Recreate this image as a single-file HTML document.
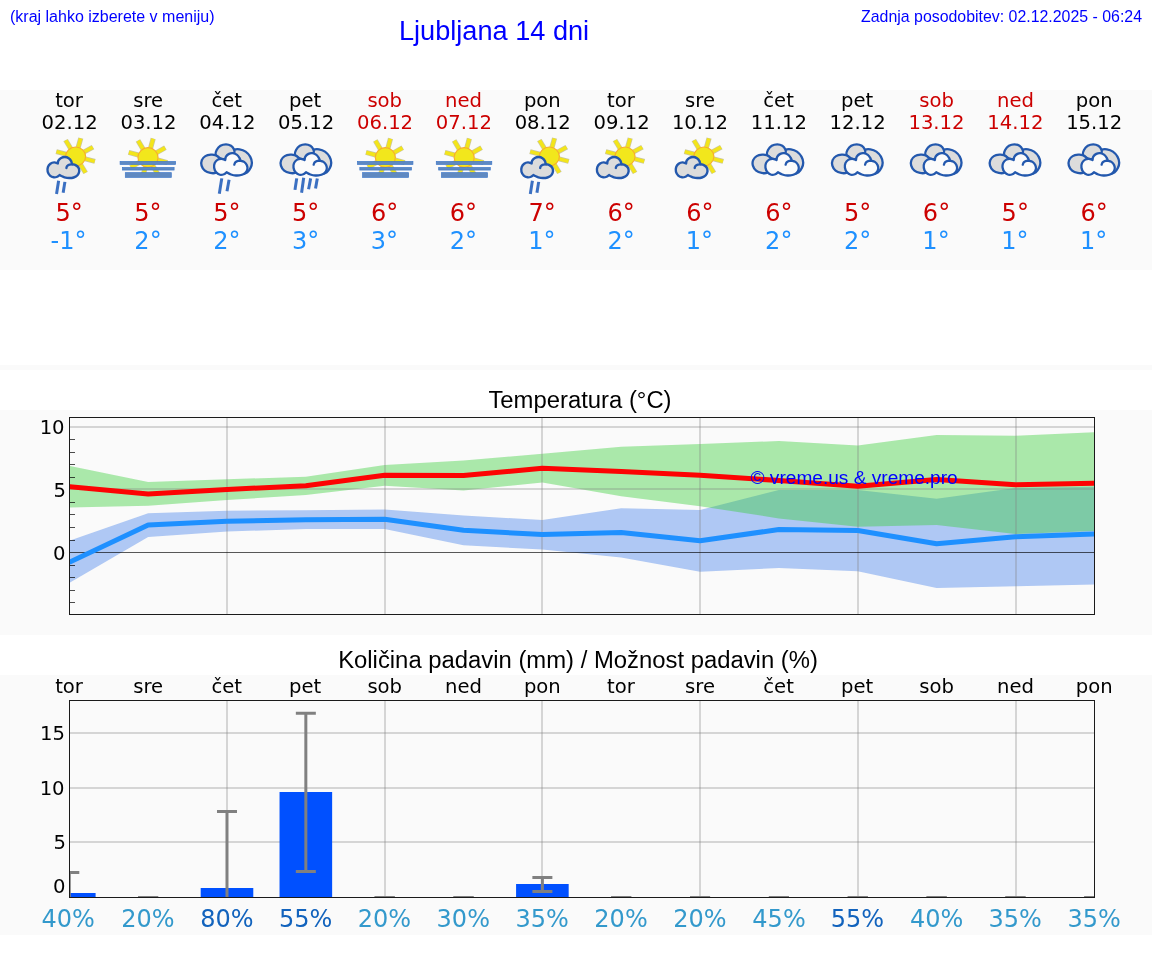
<!DOCTYPE html>
<html lang="sl">
<head>
<meta charset="utf-8">
<title>Ljubljana 14 dni</title>
<style>
html,body{margin:0;padding:0;background:#fff;}
body{width:1152px;height:975px;overflow:hidden;position:relative;}
svg{position:absolute;left:0;top:0;display:block;}
.a{font-family:"Liberation Sans",Arial,sans-serif;}
.d{font-family:"DejaVu Sans","Liberation Sans",sans-serif;}
.m{text-anchor:middle;}
.e{text-anchor:end;}
.hd{fill:#0000ff;}
.we{fill:#cc0000;}
.hi{fill:#cc0000;}
.lo{fill:#1e90ff;}
.p1{fill:#3399cc;}
.p2{fill:#1263bd;}
</style>
</head>
<body>
<svg width="1152" height="975" viewBox="0 0 1152 975">
<defs>
<!-- icon parts; local origin = column centre, y absolute -->
<g id="ray"><line x1="9.5" y1="0" x2="19.1" y2="0" stroke="#9a9440" stroke-opacity="0.5" stroke-width="4.9"/><line x1="9.5" y1="0" x2="18.8" y2="0" stroke="#f3e51a" stroke-width="3.5"/></g>
<g id="sun">
 <use href="#ray" transform="rotate(15)"/>
 <use href="#ray" transform="rotate(60)"/>
 <use href="#ray" transform="rotate(105)"/>
 <use href="#ray" transform="rotate(150)"/>
 <use href="#ray" transform="rotate(195)"/>
 <use href="#ray" transform="rotate(240)"/>
 <use href="#ray" transform="rotate(285)"/>
 <use href="#ray" transform="rotate(330)"/>
 <circle cx="0" cy="0" r="9.55" fill="#f2e71c" stroke="#f6ae2c" stroke-width="1.1"/>
</g>

<g id="scl">
<path d="M-12.07 175.02C-12.49 175.3 -13.57 176.35 -14.55 176.74C-15.54 177.12 -16.78 177.5 -17.99 177.31C-19.2 177.12 -20.79 176.51 -21.81 175.59C-22.83 174.67 -23.75 173.17 -24.1 171.77C-24.45 170.37 -24.36 168.52 -23.91 167.19C-23.47 165.85 -22.48 164.55 -21.43 163.75C-20.38 162.95 -18.85 162.46 -17.61 162.41C-16.37 162.36 -14.59 163.27 -13.98 163.44C-13.89 162.99 -13.95 161.6 -13.41 160.69C-12.87 159.79 -11.82 158.63 -10.73 158.02C-9.65 157.42 -8.19 157.03 -6.92 157.07C-5.64 157.1 -4.15 157.54 -3.1 158.21C-2.05 158.88 -1.15 160.09 -0.61 161.08C-0.07 162.06 0.02 163.62 0.15 164.13C0.76 164.29 2.7 164.51 3.78 165.09C4.86 165.66 6.04 166.52 6.64 167.57C7.25 168.62 7.57 170.12 7.41 171.39C7.25 172.66 6.61 174.19 5.69 175.21C4.77 176.23 3.27 177.02 1.87 177.5C0.47 177.98 -1.19 178.1 -2.71 178.07C-4.24 178.04 -6.02 177.66 -7.3 177.31C-8.57 176.96 -9.56 176.35 -10.35 175.97C-11.15 175.59 -11.79 175.18 -12.07 175.02Z" fill="#dcdcdc" stroke="#2358ad" stroke-width="2.4" stroke-linejoin="round"/>
<path d="M-5.39 167.95C-5.26 167.63 -5.13 166.58 -4.62 166.04C-4.11 165.5 -3.16 164.99 -2.33 164.7C-1.5 164.42 -0.1 164.39 0.34 164.32" fill="none" stroke="#2358ad" stroke-width="2.4" stroke-linecap="round"/>
</g>
<g id="bcl">
<path d="M7.3 149.82C8.48 149.19 10.7 149.02 12.59 149.31C14.48 149.61 16.87 150.36 18.63 151.58C20.39 152.8 22.11 154.77 23.16 156.61C24.21 158.46 24.88 160.73 24.92 162.66C24.97 164.59 24.17 166.6 23.41 168.19C22.66 169.79 22.03 171.22 20.39 172.22C18.76 173.23 15.99 174.57 13.6 174.24C11.2 173.9 7.72 172.56 6.04 170.21C4.36 167.86 3.61 162.99 3.53 160.14C3.44 157.29 4.91 154.81 5.54 153.09C6.17 151.37 6.13 150.45 7.3 149.82Z" fill="#dcdcdc" stroke="#2358ad" stroke-width="2.3" stroke-linejoin="round"/>
<path d="M-11.33 154.7C-11.54 153.53 -11.12 151.55 -10.32 150.07C-9.52 148.58 -8.1 146.75 -6.54 145.79C-4.99 144.82 -2.77 144.28 -1.01 144.28C0.76 144.28 2.69 144.91 4.03 145.79C5.37 146.67 6.5 148.35 7.05 149.57C7.6 150.78 7.89 151.75 7.3 153.09C6.71 154.43 5.41 156.61 3.53 157.62C1.64 158.63 -1.93 159.22 -4.03 159.13C-6.12 159.05 -7.84 157.86 -9.06 157.12C-10.28 156.38 -11.12 155.88 -11.33 154.7Z" fill="#dcdcdc" stroke="#2358ad" stroke-width="2.3" stroke-linejoin="round"/>
<path d="M-11.07 172.73C-12.5 173.36 -14.77 173.31 -16.61 172.98C-18.46 172.64 -20.68 171.93 -22.15 170.71C-23.62 169.5 -24.92 167.44 -25.42 165.68C-25.93 163.91 -25.8 161.73 -25.17 160.14C-24.54 158.54 -23.16 157.03 -21.65 156.11C-20.14 155.19 -17.79 154.77 -16.11 154.6C-14.43 154.43 -12.92 154.6 -11.58 155.1C-10.24 155.61 -8.89 156.36 -8.05 157.62C-7.22 158.88 -6.54 160.73 -6.54 162.66C-6.54 164.59 -7.3 167.52 -8.05 169.2C-8.81 170.88 -9.65 172.1 -11.07 172.73Z" fill="#dcdcdc" stroke="#2358ad" stroke-width="2.3" stroke-linejoin="round"/>
<path d="M-0.25 172.22C-0.71 172.56 -1.89 173.82 -3.02 174.24C-4.15 174.66 -5.75 175.08 -7.05 174.74C-8.35 174.4 -9.86 173.4 -10.82 172.22C-11.79 171.05 -12.59 169.2 -12.84 167.69C-13.09 166.18 -12.88 164.46 -12.33 163.16C-11.79 161.86 -10.7 160.6 -9.56 159.89C-8.43 159.17 -6.84 158.86 -5.54 158.88C-4.24 158.91 -2.39 159.85 -1.76 160.04C-1.63 159.47 -1.63 157.65 -1.01 156.61C-0.38 155.58 0.84 154.42 2.02 153.85C3.19 153.27 4.7 153.02 6.04 153.19C7.39 153.36 8.98 154.03 10.07 154.85C11.16 155.67 12.04 157.16 12.59 158.12C13.13 159.09 13.22 160.22 13.34 160.64C13.97 160.85 16.03 161.15 17.12 161.9C18.21 162.66 19.34 163.96 19.89 165.17C20.43 166.39 20.69 167.9 20.39 169.2C20.1 170.5 19.18 172.01 18.13 172.98C17.08 173.94 15.61 174.57 14.1 174.99C12.59 175.41 10.74 175.58 9.06 175.49C7.39 175.41 5.58 175.03 4.03 174.49C2.48 173.94 0.46 172.6 -0.25 172.22Z" fill="#fbfbfb" stroke="#2358ad" stroke-width="2.3" stroke-linejoin="round"/>
<path d="M7.3 164.67C7.47 164.29 7.68 163.03 8.31 162.4C8.94 161.78 10.2 161.17 11.08 160.89C11.96 160.62 13.18 160.77 13.6 160.74" fill="none" stroke="#2358ad" stroke-width="2.3" stroke-linecap="round"/>
</g>
<g id="sc"><g transform="translate(3.8 156.5) scale(1.05 0.99)"><use href="#sun"/></g><use href="#scl"/></g>
<g id="scr"><use href="#sc"/><g stroke="#3b70c2" stroke-width="3"><line x1="-13.18" y1="180.82" x2="-15.27" y2="194.07"/><line x1="-6.9" y1="181.87" x2="-8.65" y2="192.68"/></g></g>
<g id="ovc"><use href="#bcl"/></g>
<g id="ovc2"><use href="#bcl"/><g stroke="#3b70c2" stroke-width="3"><line x1="-5.23" y1="178.38" x2="-7.67" y2="193.72"/><line x1="2.09" y1="179.77" x2="0" y2="191.28"/></g></g>
<g id="ovc4"><use href="#bcl"/><g stroke="#3b70c2" stroke-width="3"><line x1="-9.62" y1="178.38" x2="-11.37" y2="189.89"/><line x1="-2.65" y1="177.68" x2="-4.74" y2="192.68"/><line x1="4.32" y1="178.38" x2="2.23" y2="189.19"/><line x1="10.95" y1="178.38" x2="9.21" y2="188.49"/></g></g>
<g id="fog"><g transform="translate(-0.15 157.5) scale(1.05 1.03)"><use href="#sun"/></g><g fill="#5f89c1" stroke="#3f78c9" stroke-width="0.7"><rect x="-28.05" y="161.45" width="55.5" height="3"/><rect x="-25.65" y="167.45" width="51.6" height="2.6"/><rect x="-22.85" y="172.65" width="46" height="4.7"/></g></g>
</defs>
<rect x="0" y="90" width="1152" height="180" fill="#fafafa"/>
<rect x="0" y="365" width="1152" height="5" fill="#fafafa"/>
<rect x="0" y="410" width="1152" height="225" fill="#fafafa"/>
<rect x="0" y="675" width="1152" height="260" fill="#fafafa"/>
<text class="a hd" x="10" y="22" font-size="16">(kraj lahko izberete v meniju)</text>
<text class="a hd" x="399" y="39.6" font-size="27.15">Ljubljana 14 dni</text>
<text class="a hd e" x="1142" y="22" font-size="15.9">Zadnja posodobitev: 02.12.2025 - 06:24</text>
<text class="d m" x="69.03" y="106.8" font-size="19.6">tor</text>
<text class="d m" x="69.64" y="128.6" font-size="19.6">02.12</text>
<use href="#scr" x="71.8" y="0"/>
<text class="d hi m" x="69.1" y="220.8" font-size="24">5°</text>
<text class="d lo m" x="68.55" y="249" font-size="24">-1°</text>
<text class="d m" x="148.13" y="106.8" font-size="19.6">sre</text>
<text class="d m" x="148.48" y="128.6" font-size="19.6">03.12</text>
<use href="#fog" x="148.15" y="0"/>
<text class="d hi m" x="147.95" y="220.8" font-size="24">5°</text>
<text class="d lo m" x="148" y="249" font-size="24">2°</text>
<text class="d m" x="226.68" y="106.8" font-size="19.6">čet</text>
<text class="d m" x="227.33" y="128.6" font-size="19.6">04.12</text>
<use href="#ovc2" x="226.99" y="0"/>
<text class="d hi m" x="226.79" y="220.8" font-size="24">5°</text>
<text class="d lo m" x="226.84" y="249" font-size="24">2°</text>
<text class="d m" x="305.18" y="106.8" font-size="19.6">pet</text>
<text class="d m" x="306.17" y="128.6" font-size="19.6">05.12</text>
<use href="#ovc4" x="306.34" y="0"/>
<text class="d hi m" x="305.64" y="220.8" font-size="24">5°</text>
<text class="d lo m" x="305.64" y="249" font-size="24">3°</text>
<text class="d we m" x="384.7" y="106.8" font-size="19.6">sob</text>
<text class="d we m" x="385.02" y="128.6" font-size="19.6">06.12</text>
<use href="#fog" x="385.48" y="0"/>
<text class="d hi m" x="384.58" y="220.8" font-size="24">6°</text>
<text class="d lo m" x="384.48" y="249" font-size="24">3°</text>
<text class="d we m" x="463.55" y="106.8" font-size="19.6">ned</text>
<text class="d we m" x="463.87" y="128.6" font-size="19.6">07.12</text>
<use href="#fog" x="464.33" y="0"/>
<text class="d hi m" x="463.43" y="220.8" font-size="24">6°</text>
<text class="d lo m" x="463.38" y="249" font-size="24">2°</text>
<text class="d m" x="542.34" y="106.8" font-size="19.6">pon</text>
<text class="d m" x="542.71" y="128.6" font-size="19.6">08.12</text>
<use href="#scr" x="545.58" y="0"/>
<text class="d hi m" x="542.13" y="220.8" font-size="24">7°</text>
<text class="d lo m" x="541.78" y="249" font-size="24">1°</text>
<text class="d m" x="620.95" y="106.8" font-size="19.6">tor</text>
<text class="d m" x="621.56" y="128.6" font-size="19.6">09.12</text>
<use href="#sc" x="621.22" y="0"/>
<text class="d hi m" x="621.12" y="220.8" font-size="24">6°</text>
<text class="d lo m" x="621.07" y="249" font-size="24">2°</text>
<text class="d m" x="700.05" y="106.8" font-size="19.6">sre</text>
<text class="d m" x="699.95" y="128.6" font-size="19.6">10.12</text>
<use href="#sc" x="700.07" y="0"/>
<text class="d hi m" x="699.97" y="220.8" font-size="24">6°</text>
<text class="d lo m" x="699.47" y="249" font-size="24">1°</text>
<text class="d m" x="778.61" y="106.8" font-size="19.6">čet</text>
<text class="d m" x="778.8" y="128.6" font-size="19.6">11.12</text>
<use href="#ovc" x="778.31" y="0"/>
<text class="d hi m" x="778.81" y="220.8" font-size="24">6°</text>
<text class="d lo m" x="778.76" y="249" font-size="24">2°</text>
<text class="d m" x="857.1" y="106.8" font-size="19.6">pet</text>
<text class="d m" x="857.65" y="128.6" font-size="19.6">12.12</text>
<use href="#ovc" x="857.76" y="0"/>
<text class="d hi m" x="857.56" y="220.8" font-size="24">5°</text>
<text class="d lo m" x="857.61" y="249" font-size="24">2°</text>
<text class="d we m" x="936.63" y="106.8" font-size="19.6">sob</text>
<text class="d we m" x="936.49" y="128.6" font-size="19.6">13.12</text>
<use href="#ovc" x="936.61" y="0"/>
<text class="d hi m" x="936.51" y="220.8" font-size="24">6°</text>
<text class="d lo m" x="936.01" y="249" font-size="24">1°</text>
<text class="d we m" x="1015.47" y="106.8" font-size="19.6">ned</text>
<text class="d we m" x="1015.34" y="128.6" font-size="19.6">14.12</text>
<use href="#ovc" x="1015.45" y="0"/>
<text class="d hi m" x="1015.25" y="220.8" font-size="24">5°</text>
<text class="d lo m" x="1014.85" y="249" font-size="24">1°</text>
<text class="d m" x="1094.26" y="106.8" font-size="19.6">pon</text>
<text class="d m" x="1094.18" y="128.6" font-size="19.6">15.12</text>
<use href="#ovc" x="1094.3" y="0"/>
<text class="d hi m" x="1094.2" y="220.8" font-size="24">6°</text>
<text class="d lo m" x="1093.7" y="249" font-size="24">1°</text>
<text class="a m" x="580" y="407.5" font-size="23.85">Temperatura (°C)</text>
<clipPath id="ct"><rect x="70" y="418" width="1024" height="196"/></clipPath>
<g clip-path="url(#ct)">
<polygon points="69.3,540.7 148.15,513.25 226.99,510.75 305.84,510.25 384.68,509.5 463.53,515.5 542.38,520 621.22,508.25 700.07,510 778.91,490 857.76,490 936.61,498.75 1015.45,488.1 1094.3,486.7 1094.3,584.5 1015.45,586.2 936.61,588 857.76,571.25 778.91,568 700.07,571.75 621.22,557.5 542.38,549.5 463.53,545.25 384.68,529 305.84,529 226.99,531.5 148.15,537 69.3,583" fill="#6495ed" fill-opacity="0.5"/>
<polygon points="69.3,465.75 148.15,482 226.99,479.25 305.84,476.75 384.68,465 463.53,460.5 542.38,453.75 621.22,446.75 700.07,444 778.91,441 857.76,445.5 936.61,435 1015.45,435.7 1094.3,432.2 1094.3,531 1015.45,534.1 936.61,525 857.76,526.75 778.91,518.4 700.07,506.25 621.22,496.25 542.38,482.5 463.53,490.5 384.68,485.75 305.84,495 226.99,500 148.15,505.75 69.3,507.5" fill="#32cd32" fill-opacity="0.4"/>
<rect x="70" y="426" width="1024" height="2" fill="#808080" fill-opacity="0.3"/>
<rect x="70" y="488" width="1024" height="2" fill="#808080" fill-opacity="0.3"/>
<rect x="226" y="418" width="2" height="196" fill="#808080" fill-opacity="0.3"/>
<rect x="384" y="418" width="2" height="196" fill="#808080" fill-opacity="0.3"/>
<rect x="541" y="418" width="2" height="196" fill="#808080" fill-opacity="0.3"/>
<rect x="699" y="418" width="2" height="196" fill="#808080" fill-opacity="0.3"/>
<rect x="857" y="418" width="2" height="196" fill="#808080" fill-opacity="0.3"/>
<rect x="1015" y="418" width="2" height="196" fill="#808080" fill-opacity="0.3"/>
<rect x="70" y="552" width="1024" height="1" fill="#000" fill-opacity="0.65"/>
<polyline points="69.3,562.3 148.15,525 226.99,521.25 305.84,519.75 384.68,519.25 463.53,530.25 542.38,534.5 621.22,532.5 700.07,540.75 778.91,529.5 857.76,530.5 936.61,543.75 1015.45,536.8 1094.3,534" fill="none" stroke="#1e90ff" stroke-width="5" stroke-linejoin="round"/>
<polyline points="69.3,486.75 148.15,494 226.99,489.5 305.84,485.75 384.68,475.25 463.53,475.5 542.38,468.25 621.22,471.5 700.07,475.25 778.91,480.5 857.76,486.25 936.61,479.5 1015.45,484.7 1094.3,483.3" fill="none" stroke="#fd0303" stroke-width="5" stroke-linejoin="round"/>
</g>
<g>
<rect x="70" y="602" width="5" height="1" fill="#000" fill-opacity="0.7"/>
<rect x="70" y="590" width="5" height="1" fill="#000" fill-opacity="0.7"/>
<rect x="70" y="577" width="5" height="1" fill="#000" fill-opacity="0.7"/>
<rect x="70" y="565" width="5" height="1" fill="#000" fill-opacity="0.7"/>
<rect x="70" y="540" width="5" height="1" fill="#000" fill-opacity="0.7"/>
<rect x="70" y="527" width="5" height="1" fill="#000" fill-opacity="0.7"/>
<rect x="70" y="514" width="5" height="1" fill="#000" fill-opacity="0.7"/>
<rect x="70" y="502" width="5" height="1" fill="#000" fill-opacity="0.7"/>
<rect x="70" y="477" width="5" height="1" fill="#000" fill-opacity="0.7"/>
<rect x="70" y="464" width="5" height="1" fill="#000" fill-opacity="0.7"/>
<rect x="70" y="452" width="5" height="1" fill="#000" fill-opacity="0.7"/>
<rect x="70" y="439" width="5" height="1" fill="#000" fill-opacity="0.7"/>
<rect x="69.5" y="417.5" width="1025" height="197" fill="none" stroke="#1a1a1a" stroke-width="1"/>
</g>
<text class="d e" x="64.57" y="434.2" font-size="19.6">10</text>
<text class="d e" x="65.87" y="496.5" font-size="19.6">5</text>
<text class="d e" x="65.47" y="559.6" font-size="19.6">0</text>
<text class="a hd" x="750.5" y="484" font-size="19.1">© vreme.us &amp; vreme.pro</text>
<text class="a m" x="578" y="668" font-size="23.85">Količina padavin (mm) / Možnost padavin (%)</text>
<text class="d m" x="69.03" y="692.5" font-size="19.6">tor</text>
<text class="d m" x="148.13" y="692.5" font-size="19.6">sre</text>
<text class="d m" x="226.68" y="692.5" font-size="19.6">čet</text>
<text class="d m" x="305.18" y="692.5" font-size="19.6">pet</text>
<text class="d m" x="384.7" y="692.5" font-size="19.6">sob</text>
<text class="d m" x="463.55" y="692.5" font-size="19.6">ned</text>
<text class="d m" x="542.34" y="692.5" font-size="19.6">pon</text>
<text class="d m" x="620.95" y="692.5" font-size="19.6">tor</text>
<text class="d m" x="700.05" y="692.5" font-size="19.6">sre</text>
<text class="d m" x="778.61" y="692.5" font-size="19.6">čet</text>
<text class="d m" x="857.1" y="692.5" font-size="19.6">pet</text>
<text class="d m" x="936.63" y="692.5" font-size="19.6">sob</text>
<text class="d m" x="1015.47" y="692.5" font-size="19.6">ned</text>
<text class="d m" x="1094.26" y="692.5" font-size="19.6">pon</text>
<rect x="70" y="732" width="1024" height="2" fill="#808080" fill-opacity="0.3"/>
<rect x="70" y="787" width="1024" height="2" fill="#808080" fill-opacity="0.3"/>
<rect x="70" y="841" width="1024" height="2" fill="#808080" fill-opacity="0.3"/>
<rect x="226" y="701" width="2" height="196" fill="#808080" fill-opacity="0.3"/>
<rect x="384" y="701" width="2" height="196" fill="#808080" fill-opacity="0.3"/>
<rect x="541" y="701" width="2" height="196" fill="#808080" fill-opacity="0.3"/>
<rect x="699" y="701" width="2" height="196" fill="#808080" fill-opacity="0.3"/>
<rect x="857" y="701" width="2" height="196" fill="#808080" fill-opacity="0.3"/>
<rect x="1015" y="701" width="2" height="196" fill="#808080" fill-opacity="0.3"/>
<clipPath id="cp"><rect x="69.5" y="700.5" width="1025" height="197"/></clipPath>
<g clip-path="url(#cp)">
<rect x="43" y="893" width="52.6" height="4.5" fill="#0050ff"/>
<rect x="200.69" y="888" width="52.6" height="9.5" fill="#0050ff"/>
<rect x="279.54" y="792" width="52.6" height="105.5" fill="#0050ff"/>
<rect x="516.08" y="884" width="52.6" height="13.5" fill="#0050ff"/>
<g stroke="#808080" stroke-width="3"><line x1="69.3" x2="69.3" y1="872.5" y2="905"/><line x1="59.3" x2="79.3" y1="872.5" y2="872.5"/><line x1="59.3" x2="79.3" y1="905" y2="905"/></g>
<g stroke="#808080" stroke-width="3"><line x1="148.15" x2="148.15" y1="897.4" y2="897.4"/><line x1="138.15" x2="158.15" y1="897.4" y2="897.4"/><line x1="138.15" x2="158.15" y1="897.4" y2="897.4"/></g>
<g stroke="#808080" stroke-width="3"><line x1="226.99" x2="226.99" y1="811.4" y2="905"/><line x1="216.99" x2="236.99" y1="811.4" y2="811.4"/><line x1="216.99" x2="236.99" y1="905" y2="905"/></g>
<g stroke="#808080" stroke-width="3"><line x1="305.84" x2="305.84" y1="713.3" y2="871.4"/><line x1="295.84" x2="315.84" y1="713.3" y2="713.3"/><line x1="295.84" x2="315.84" y1="871.4" y2="871.4"/></g>
<g stroke="#808080" stroke-width="3"><line x1="384.68" x2="384.68" y1="897.4" y2="897.4"/><line x1="374.68" x2="394.68" y1="897.4" y2="897.4"/><line x1="374.68" x2="394.68" y1="897.4" y2="897.4"/></g>
<g stroke="#808080" stroke-width="3"><line x1="463.53" x2="463.53" y1="897.4" y2="897.4"/><line x1="453.53" x2="473.53" y1="897.4" y2="897.4"/><line x1="453.53" x2="473.53" y1="897.4" y2="897.4"/></g>
<g stroke="#808080" stroke-width="3"><line x1="542.38" x2="542.38" y1="877.5" y2="891.4"/><line x1="532.38" x2="552.38" y1="877.5" y2="877.5"/><line x1="532.38" x2="552.38" y1="891.4" y2="891.4"/></g>
<g stroke="#808080" stroke-width="3"><line x1="621.22" x2="621.22" y1="897.4" y2="897.4"/><line x1="611.22" x2="631.22" y1="897.4" y2="897.4"/><line x1="611.22" x2="631.22" y1="897.4" y2="897.4"/></g>
<g stroke="#808080" stroke-width="3"><line x1="700.07" x2="700.07" y1="897.4" y2="897.4"/><line x1="690.07" x2="710.07" y1="897.4" y2="897.4"/><line x1="690.07" x2="710.07" y1="897.4" y2="897.4"/></g>
<g stroke="#808080" stroke-width="3"><line x1="778.91" x2="778.91" y1="897.4" y2="897.4"/><line x1="768.91" x2="788.91" y1="897.4" y2="897.4"/><line x1="768.91" x2="788.91" y1="897.4" y2="897.4"/></g>
<g stroke="#808080" stroke-width="3"><line x1="857.76" x2="857.76" y1="897.4" y2="897.4"/><line x1="847.76" x2="867.76" y1="897.4" y2="897.4"/><line x1="847.76" x2="867.76" y1="897.4" y2="897.4"/></g>
<g stroke="#808080" stroke-width="3"><line x1="936.61" x2="936.61" y1="897.4" y2="897.4"/><line x1="926.61" x2="946.61" y1="897.4" y2="897.4"/><line x1="926.61" x2="946.61" y1="897.4" y2="897.4"/></g>
<g stroke="#808080" stroke-width="3"><line x1="1015.45" x2="1015.45" y1="897.4" y2="897.4"/><line x1="1005.45" x2="1025.45" y1="897.4" y2="897.4"/><line x1="1005.45" x2="1025.45" y1="897.4" y2="897.4"/></g>
<g stroke="#808080" stroke-width="3"><line x1="1094.3" x2="1094.3" y1="897.4" y2="897.4"/><line x1="1084.3" x2="1104.3" y1="897.4" y2="897.4"/><line x1="1084.3" x2="1104.3" y1="897.4" y2="897.4"/></g>
</g>
<rect x="69.5" y="700.5" width="1025" height="197" fill="none" stroke="#1a1a1a" stroke-width="1"/>
<text class="d e" x="64.97" y="740.2" font-size="19.6">15</text>
<text class="d e" x="64.57" y="795.2" font-size="19.6">10</text>
<text class="d e" x="65.87" y="849.2" font-size="19.6">5</text>
<text class="d e" x="65.47" y="892.9" font-size="19.6">0</text>
<text class="d p1 m" x="68.2" y="926.7" font-size="24">40%</text>
<text class="d p1 m" x="147.95" y="926.7" font-size="24">20%</text>
<text class="d p2 m" x="226.84" y="926.7" font-size="24">80%</text>
<text class="d p2 m" x="305.59" y="926.7" font-size="24">55%</text>
<text class="d p1 m" x="384.49" y="926.7" font-size="24">20%</text>
<text class="d p1 m" x="463.28" y="926.7" font-size="24">30%</text>
<text class="d p1 m" x="542.13" y="926.7" font-size="24">35%</text>
<text class="d p1 m" x="621.02" y="926.7" font-size="24">20%</text>
<text class="d p1 m" x="699.87" y="926.7" font-size="24">20%</text>
<text class="d p1 m" x="779.02" y="926.7" font-size="24">45%</text>
<text class="d p2 m" x="857.51" y="926.7" font-size="24">55%</text>
<text class="d p1 m" x="936.71" y="926.7" font-size="24">40%</text>
<text class="d p1 m" x="1015.2" y="926.7" font-size="24">35%</text>
<text class="d p1 m" x="1094.05" y="926.7" font-size="24">35%</text>
</svg>
</body>
</html>
